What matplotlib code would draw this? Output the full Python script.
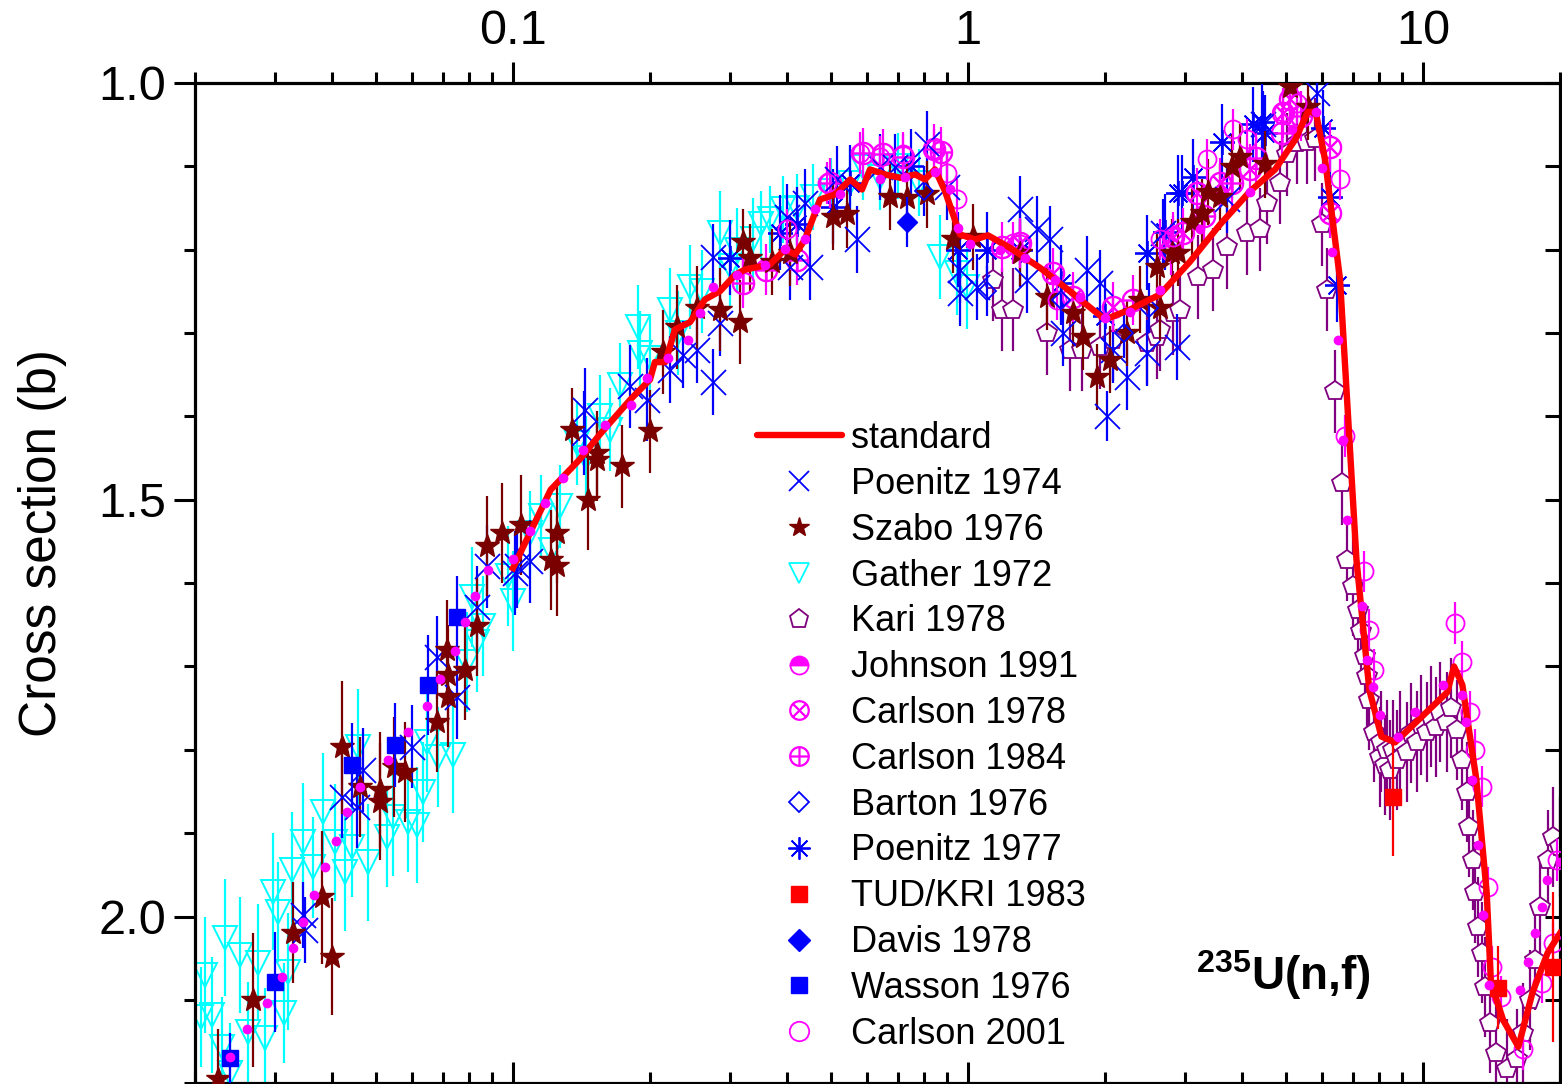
import matplotlib
matplotlib.use('Agg')
import matplotlib.pyplot as plt
from matplotlib.lines import Line2D
from matplotlib.ticker import FixedLocator, FixedFormatter, NullFormatter, LogLocator, MultipleLocator

plt.rcParams['font.family'] = ['Liberation Sans', 'DejaVu Sans']
plt.rcParams['mathtext.fontset'] = 'custom'
plt.rcParams['mathtext.rm'] = 'Liberation Sans'
plt.rcParams['mathtext.bf'] = 'Liberation Sans:bold'

# ---------------- data (energy in MeV, cross section in b) ----------------
std_E = [0.10, 0.121, 0.14, 0.155, 0.181, 0.2, 0.205, 0.216, 0.227, 0.245, 0.264, 0.285,
         0.308, 0.324, 0.367, 0.396, 0.417, 0.438, 0.473, 0.51, 0.551, 0.585, 0.609, 0.657,
         0.709, 0.765, 0.804, 0.846, 0.89, 0.96, 1.036, 1.106, 1.237, 1.44, 1.675, 2.0, 2.27,
         2.64, 3.07, 3.58, 4.17, 4.73, 5.24, 5.58, 5.81, 6.09, 6.57, 7.14, 7.62, 8.10, 8.68,
         11.3, 11.7, 12.2, 13.1, 13.8, 14.1, 15.0, 16.2, 17.4, 18.8, 20.0]
std_s = [1.582, 1.488, 1.452, 1.422, 1.38, 1.356, 1.335, 1.335, 1.296, 1.287, 1.26, 1.25,
         1.23, 1.224, 1.218, 1.20, 1.206, 1.188, 1.14, 1.134, 1.116, 1.128, 1.104, 1.11,
         1.114, 1.11, 1.116, 1.104, 1.13, 1.182, 1.188, 1.183, 1.198, 1.222, 1.25, 1.284, 1.272,
         1.254, 1.215, 1.17, 1.13, 1.104, 1.068, 1.035, 1.035, 1.092, 1.236, 1.572, 1.728, 1.784, 1.791,
         1.731, 1.70, 1.722, 1.836, 1.971, 2.079, 2.124, 2.156, 2.091, 2.043, 2.02]

poen74_E = [0.0345, 0.0349, 0.0421, 0.0454, 0.0468, 0.060, 0.0681, 0.0754, 0.0834, 0.0877, 0.101,
            0.102, 0.109, 0.143, 0.144, 0.181, 0.197, 0.221, 0.236, 0.254, 0.275, 0.285, 0.275,
            0.400, 0.406, 0.438, 0.450, 0.515, 0.570, 0.641, 0.691, 0.813, 0.900, 0.960, 0.960,
            1.047, 1.30, 1.35, 1.42, 1.514, 1.62, 1.83, 1.95, 2.02, 2.08, 2.24, 2.47, 2.68, 2.88,
            3.71, 4.45, 5.85]
poen74_s = [1.998, 2.016, 1.856, 1.868, 1.824, 1.796, 1.689, 1.737, 1.629, 1.580, 1.588,
            1.580, 1.574, 1.420, 1.392, 1.364, 1.380, 1.344, 1.326, 1.320, 1.359, 1.288, 1.209,
            1.161, 1.221, 1.144, 1.221, 1.116, 1.188, 1.101, 1.101, 1.074, 1.125, 1.224, 1.252,
            1.245, 1.152, 1.236, 1.176, 1.188, 1.300, 1.224, 1.240, 1.400, 1.320, 1.353, 1.324, 1.180, 1.317,
            1.140, 1.050, 1.012]
poen74_err = [0.04, 0.04, 0.05, 0.05, 0.05, 0.05, 0.05, 0.05, 0.05, 0.05, 0.05,
              0.05, 0.05, 0.05, 0.05, 0.05, 0.05, 0.04, 0.04, 0.04, 0.04, 0.04, 0.04,
              0.04, 0.04, 0.04, 0.04, 0.04, 0.04, 0.04, 0.04, 0.04, 0.04, 0.04, 0.04,
              0.04, 0.04, 0.04, 0.04, 0.04, 0.04, 0.04, 0.04, 0.03, 0.04, 0.04, 0.04, 0.04, 0.04,
              0.04, 0.04, 0.04]

szabo_E = [0.0225, 0.0268, 0.0328, 0.0380, 0.0400, 0.0421, 0.0461, 0.0510, 0.0510, 0.0547, 0.0579,
           0.0681, 0.0716, 0.0720, 0.0720, 0.0785, 0.0834, 0.0877, 0.0946, 0.104, 0.121, 0.125,
           0.125, 0.135, 0.146, 0.153, 0.153, 0.174, 0.200, 0.214, 0.229, 0.254, 0.285, 0.315,
           0.320, 0.332, 0.371, 0.406, 0.505, 0.542, 0.674, 0.734, 0.813, 0.927, 1.025, 1.30,
           1.49, 1.70, 1.79, 1.92, 2.05, 2.24, 2.39, 2.60, 2.64, 2.81, 2.89, 3.11, 3.27, 3.37,
           3.58, 3.80, 3.96, 4.50, 5.10, 5.59]
szabo_s = [2.195, 2.100, 2.019, 1.977, 2.048, 1.797, 1.845, 1.848, 1.862, 1.821, 1.826,
           1.766, 1.680, 1.736, 1.710, 1.704, 1.652, 1.556, 1.540, 1.530, 1.572, 1.580,
           1.540, 1.416, 1.500, 1.444, 1.452, 1.460, 1.418, 1.323, 1.293, 1.270, 1.272, 1.287,
           1.191, 1.210, 1.215, 1.204, 1.161, 1.158, 1.137, 1.138, 1.134, 1.188, 1.185, 1.204,
           1.257, 1.276, 1.305, 1.353, 1.332, 1.300, 1.260, 1.221, 1.270, 1.204, 1.204, 1.167, 1.156, 1.131,
           1.137, 1.101, 1.089, 1.098, 1.005, 1.029]
szabo_err = [0.06, 0.08, 0.06, 0.08, 0.07, 0.08, 0.06, 0.07, 0.07, 0.06, 0.06,
             0.06, 0.06, 0.06, 0.06, 0.06, 0.06, 0.06, 0.06, 0.06, 0.06, 0.06,
             0.06, 0.05, 0.06, 0.05, 0.05, 0.05, 0.05, 0.05, 0.05, 0.05, 0.05, 0.05,
             0.04, 0.04, 0.04, 0.04, 0.04, 0.04, 0.04, 0.04, 0.04, 0.04, 0.04, 0.04,
             0.04, 0.04, 0.04, 0.04, 0.04, 0.04, 0.04, 0.04, 0.04, 0.04, 0.04, 0.04, 0.04, 0.04,
             0.04, 0.04, 0.04, 0.04, 0.04, 0.04]

gather_E = [0.0206, 0.0210, 0.0218, 0.0229, 0.0233, 0.0239, 0.0251, 0.0262, 0.0275, 0.0285,
            0.0297, 0.0305, 0.0313, 0.0320, 0.0327, 0.0345, 0.0363, 0.0382, 0.0406, 0.0427,
            0.0443, 0.0456, 0.0480, 0.0528, 0.0545, 0.0588, 0.0615, 0.0634, 0.0647, 0.0684,
            0.0738, 0.0793, 0.0813, 0.0834, 0.0859, 0.0975, 0.100, 0.109, 0.115, 0.121, 0.127,
            0.138, 0.145, 0.155, 0.163, 0.172, 0.188, 0.190, 0.200, 0.221, 0.230, 0.245, 0.260,
            0.285, 0.300, 0.311, 0.337, 0.350, 0.367, 0.392, 0.420, 0.456, 0.500, 0.550, 0.588,
            0.641, 0.700, 0.780, 0.868, 0.946, 0.995]
gather_s = [2.120, 2.070, 2.118, 2.156, 2.025, 2.187, 2.046, 2.138, 2.055, 2.145,
            1.970, 1.994, 2.115, 2.066, 1.944, 1.910, 1.941, 1.874, 1.911, 1.947,
            1.916, 1.797, 1.935, 1.904, 1.881, 1.887, 1.890, 1.851, 1.790, 1.808,
            1.806, 1.695, 1.617, 1.671, 1.652, 1.592, 1.622, 1.540, 1.520, 1.560, 1.508,
            1.432, 1.450, 1.400, 1.416, 1.362, 1.293, 1.324, 1.330, 1.272, 1.300, 1.245, 1.250,
            1.180, 1.220, 1.200, 1.188, 1.170, 1.164, 1.152, 1.150, 1.137, 1.130, 1.120, 1.101,
            1.113, 1.100, 1.120, 1.209, 1.228, 1.245]
gather_err = [0.06, 0.07, 0.07, 0.06, 0.07, 0.06, 0.07, 0.06, 0.07, 0.06,
              0.07, 0.06, 0.06, 0.07, 0.07, 0.07, 0.06, 0.07, 0.07, 0.07,
              0.06, 0.07, 0.07, 0.06, 0.07, 0.06, 0.07, 0.06, 0.06, 0.06,
              0.07, 0.06, 0.06, 0.06, 0.06, 0.06, 0.06, 0.05, 0.05, 0.05, 0.05,
              0.05, 0.05, 0.05, 0.05, 0.05, 0.05, 0.05, 0.05, 0.05, 0.05, 0.05, 0.05,
              0.05, 0.05, 0.05, 0.05, 0.04, 0.04, 0.04, 0.04, 0.04, 0.04, 0.04, 0.04,
              0.04, 0.04, 0.04, 0.05, 0.05, 0.05]

kari_E = [1.135, 1.19, 1.256, 1.49, 1.675, 1.78, 1.95, 2.08, 2.47, 2.60, 2.64, 2.82, 2.92,
          3.20, 3.45, 3.71, 4.10, 4.38, 4.54, 4.85, 5.02, 5.28, 5.56, 5.79, 6.0, 6.15, 6.41,
          6.64, 6.81, 7.02, 7.20, 7.30, 7.46, 7.55, 7.62, 7.8, 8.05, 8.1, 8.25, 8.35, 8.44,
          8.6, 8.76, 8.9, 9.2, 9.4, 9.7, 9.9, 10.2, 10.4, 10.7, 10.9, 11.3, 11.5, 11.9, 12.2,
          12.5, 12.6, 12.9, 13.0, 13.2, 13.5, 13.7, 14.0, 14.5, 15.3, 16.1, 16.6, 17.2, 17.6,
          18.1, 18.8, 19.3, 20.0]
kari_s = [1.236, 1.272, 1.272, 1.300, 1.320, 1.320, 1.317, 1.308, 1.312, 1.305, 1.296, 1.276, 1.272,
          1.233, 1.224, 1.197, 1.180, 1.176, 1.144, 1.120, 1.086, 1.072, 1.071, 1.068, 1.170, 1.248, 1.370,
          1.480, 1.572, 1.604, 1.632, 1.658, 1.688, 1.712, 1.740, 1.779, 1.808, 1.790, 1.818, 1.800, 1.824,
          1.800, 1.812, 1.790, 1.803, 1.780, 1.790, 1.770, 1.779, 1.760, 1.773, 1.755, 1.767, 1.750, 1.776, 1.812,
          1.851, 1.892, 1.932, 1.971, 2.012, 2.043, 2.084, 2.127, 2.163, 2.183, 2.171, 2.139, 2.100, 2.052,
          1.988, 1.932, 1.904, 1.916]
kari_err = [0.05, 0.05, 0.05, 0.05, 0.05, 0.05, 0.05, 0.05, 0.05, 0.05, 0.05, 0.05, 0.05,
            0.05, 0.05, 0.05, 0.05, 0.05, 0.05, 0.05, 0.05, 0.05, 0.05, 0.05, 0.05, 0.05, 0.05,
            0.05, 0.05, 0.06, 0.06, 0.06, 0.06, 0.06, 0.06, 0.06, 0.06, 0.06, 0.06, 0.06, 0.06,
            0.06, 0.06, 0.06, 0.06, 0.06, 0.06, 0.06, 0.06, 0.06, 0.06, 0.06, 0.06, 0.06, 0.06, 0.06,
            0.06, 0.06, 0.06, 0.06, 0.06, 0.06, 0.06, 0.06, 0.06, 0.06, 0.06, 0.06, 0.06, 0.06,
            0.06, 0.06, 0.06, 0.06]

johnson_E = [0.0239, 0.0260, 0.0288, 0.0311, 0.0328, 0.0345, 0.0365, 0.0386, 0.0408, 0.0432,
             0.0461, 0.0531, 0.0588, 0.0647, 0.0691, 0.0746, 0.0785, 0.0825, 0.0881, 0.100,
             0.109, 0.1175, 0.1288, 0.1425, 0.159, 0.1817, 0.197, 0.219, 0.2425, 0.2576, 0.275,
             0.3106, 0.358, 0.396, 0.438, 0.461, 0.523, 0.641, 0.727, 0.846, 0.913, 0.951, 1.01,
             1.176, 1.334, 1.553, 1.763, 2.0, 2.27, 2.64, 3.24, 4.17, 5.15, 5.82, 6.0, 6.31,
             6.50, 6.67, 6.81, 7.34, 7.53, 7.76, 8.04, 8.81, 9.60, 11.06, 12.18, 12.44, 12.82,
             13.21, 13.55, 13.97, 16.34, 17.0, 17.63, 18.26, 18.74, 20.0]
johnson_s = [2.168, 2.135, 2.103, 2.072, 2.038, 2.006, 1.974, 1.940, 1.909, 1.875,
             1.844, 1.812, 1.779, 1.747, 1.715, 1.681, 1.647, 1.616, 1.584, 1.571,
             1.538, 1.504, 1.474, 1.440, 1.410, 1.386, 1.354, 1.330, 1.308, 1.276, 1.245,
             1.231, 1.219, 1.199, 1.188, 1.152, 1.134, 1.116, 1.113, 1.107, 1.128, 1.174, 1.194,
             1.200, 1.210, 1.236, 1.257, 1.282, 1.275, 1.248, 1.176, 1.131, 1.056, 1.035, 1.102, 1.203,
             1.308, 1.428, 1.524, 1.628, 1.692, 1.725, 1.758, 1.784, 1.754, 1.722, 1.734, 1.766, 1.836,
             1.914, 1.998, 2.082, 2.088, 2.054, 2.019, 1.988, 1.956, 1.934]

carl78_E = [1.19, 1.30, 1.54, 1.70, 2.08, 2.82, 2.97, 3.19, 3.58, 4.17, 4.93, 5.1, 6.25, 6.25]
carl78_s = [1.197, 1.192, 1.228, 1.257, 1.269, 1.185, 1.180, 1.132, 1.12, 1.104, 1.036, 1.020, 1.077, 1.156]

carl84_E = [0.32, 0.36, 0.42, 0.497, 0.588, 0.65, 0.72, 0.84, 0.87, 2.3, 2.8, 3.3, 3.8, 4.3, 4.9, 5.4]
carl84_s = [1.24, 1.224, 1.212, 1.12, 1.084, 1.086, 1.089, 1.08, 1.083, 1.26, 1.20, 1.16, 1.12, 1.09, 1.06, 1.04]

barton_E = [0.8, 1.1, 1.6, 2.2, 2.5]
barton_s = [1.13, 1.25, 1.26, 1.30, 1.27]

poen77_E = [0.30, 0.386, 0.42, 0.505, 0.55, 0.75, 0.95, 1.10, 1.30, 1.60, 2.00, 2.47, 2.71,
            2.89, 2.95, 3.12, 3.62, 4.23, 4.43, 4.50, 6.03, 6.25, 6.47]
poen77_s = [1.21, 1.180, 1.17, 1.149, 1.12, 1.10, 1.20, 1.20, 1.20, 1.24, 1.28, 1.204, 1.179,
            1.132, 1.132, 1.113, 1.071, 1.050, 1.047, 1.060, 1.054, 1.137, 1.242]

tud_E = [8.6, 14.6, 19.3]
tud_s = [1.857, 2.085, 2.06]
tud_err = [0.07, 0.05, 0.09]

davis_E = [0.734]
davis_s = [1.167]

wasson_E = [0.0239, 0.030, 0.0443, 0.0551, 0.065, 0.0754]
wasson_s = [2.169, 2.078, 1.818, 1.794, 1.722, 1.641]
wasson_err = [0.03, 0.06, 0.05, 0.05, 0.06, 0.05]

carl01_E = [0.40, 0.49, 0.58, 0.641, 0.72, 0.84, 0.90, 0.946, 1.256, 1.30, 1.57, 2.64, 2.82,
            3.35, 3.83, 4.10, 4.93, 5.28, 6.57, 6.74, 7.4, 7.6, 7.8, 11.75, 12.2, 12.7, 13.0,
            13.5, 13.9, 14.2, 14.8, 16.6, 18.3, 19.3, 19.7]
carl01_s = [1.176, 1.12, 1.084, 1.089, 1.086, 1.080, 1.108, 1.140, 1.192, 1.194, 1.260, 1.188, 1.185,
            1.092, 1.056, 1.068, 1.035, 1.024, 1.116, 1.424, 1.586, 1.656, 1.704, 1.648, 1.695, 1.755, 1.80,
            1.844, 1.965, 2.060, 2.096, 2.159, 2.079, 2.031, 1.932]

legend_labels = ['standard', 'Poenitz 1974', 'Szabo 1976', 'Gather 1972', 'Kari 1978',
                 'Johnson 1991', 'Carlson 1978', 'Carlson 1984', 'Barton 1976', 'Poenitz 1977',
                 'TUD/KRI 1983', 'Davis 1978', 'Wasson 1976', 'Carlson 2001']

x_ticks = [0.1, 1, 10]
x_ticklabels = ['0.1', '1', '10']
y_ticks = [1.0, 1.5, 2.0]
y_ticklabels = ['1.0', '1.5', '2.0']

# ---------------- colours ----------------
BLUE = '#0000FF'
MAROON = '#7A0000'
CYAN = '#00FFFF'
PURPLE = '#800080'
MAGENTA = '#FF00FF'
RED = '#FF0000'

fig = plt.figure(figsize=(15.62, 10.84), dpi=100)
ax = fig.add_axes([195 / 1562, 0.0005, 1365 / 1562, 0.9232])
ax.set_xscale('log')
ax.set_xlim(0.02, 20.0)
ax.set_ylim(2.2, 1.0)

ekw = dict(linestyle='none', elinewidth=1.6, capsize=0)

ax.errorbar(gather_E, gather_s, yerr=gather_err, fmt='v', color=CYAN, ms=17, mfc='none',
            mec=CYAN, mew=1.4, ecolor=CYAN, **ekw, zorder=2)
ax.errorbar(kari_E, kari_s, yerr=kari_err, fmt='p', color=PURPLE, ms=15, mfc='white',
            mec=PURPLE, mew=1.3, ecolor=PURPLE, **ekw, zorder=2)
ax.errorbar(poen74_E, poen74_s, yerr=poen74_err, fmt='x', color=BLUE, ms=18, mew=1.3,
            ecolor=BLUE, **ekw, zorder=3)
ax.errorbar(poen77_E, poen77_s, yerr=0.045, fmt='none', ecolor=BLUE, **ekw, zorder=3)
ax.plot(poen77_E, poen77_s, linestyle='none', marker=(8, 2, 0), ms=18, mec=BLUE, mew=1.3, zorder=3)
ax.errorbar(szabo_E, szabo_s, yerr=szabo_err, fmt='*', color=MAROON, ms=18, mec=MAROON,
            ecolor=MAROON, **ekw, zorder=3)
ax.errorbar(carl78_E, carl78_s, yerr=0.03, fmt='none', ecolor=MAGENTA, **ekw, zorder=3)
ax.plot(carl78_E, carl78_s, linestyle='none', marker=r'$\otimes$', ms=16, color=MAGENTA, zorder=3)
ax.errorbar(carl84_E, carl84_s, yerr=0.03, fmt='none', ecolor=MAGENTA, **ekw, zorder=3)
ax.plot(carl84_E, carl84_s, linestyle='none', marker=r'$\oplus$', ms=16, color=MAGENTA, zorder=3)
ax.errorbar(carl01_E, carl01_s, yerr=0.025, fmt='o', ms=13, mfc='none', mec=MAGENTA, mew=1.3,
            ecolor=MAGENTA, **ekw, zorder=3)
ax.errorbar(barton_E, barton_s, yerr=0.03, fmt='D', ms=9, mfc='none', mec=BLUE, mew=1.3,
            ecolor=BLUE, **ekw, zorder=3)
ax.errorbar(davis_E, davis_s, yerr=0.03, fmt='D', ms=10, color=BLUE, ecolor=BLUE, **ekw, zorder=4)
ax.errorbar(wasson_E, wasson_s, yerr=wasson_err, fmt='s', ms=11, color=BLUE, ecolor=BLUE, **ekw, zorder=4)
ax.errorbar(tud_E, tud_s, yerr=tud_err, fmt='s', ms=11, color=RED, ecolor=RED, **ekw, zorder=4)

ax.plot(std_E, std_s, color=RED, lw=4.6, solid_joinstyle='round', zorder=5)
ax.plot(johnson_E, johnson_s, linestyle='none', marker='o', ms=6, color=MAGENTA, mec=MAGENTA, zorder=6)

# ---------------- legend ----------------
handles = [
    Line2D([], [], color=RED, lw=4.6, solid_capstyle='round'),
    Line2D([], [], ls='none', marker='x', ms=14, mec=BLUE, mew=1.3),
    Line2D([], [], ls='none', marker='*', ms=15, color=MAROON),
    Line2D([], [], ls='none', marker='v', ms=14, mfc='none', mec=CYAN, mew=1.3),
    Line2D([], [], ls='none', marker='p', ms=14, mfc='none', mec=PURPLE, mew=1.3),
    Line2D([], [], ls='none', marker='o', ms=13, fillstyle='top', mfc=MAGENTA, mec=MAGENTA,
           markerfacecoloralt='white', mew=1.3),
    Line2D([], [], ls='none', marker=r'$\otimes$', ms=14, color=MAGENTA),
    Line2D([], [], ls='none', marker=r'$\oplus$', ms=14, color=MAGENTA),
    Line2D([], [], ls='none', marker='D', ms=10, mfc='none', mec=BLUE, mew=1.3),
    Line2D([], [], ls='none', marker=(8, 2, 0), ms=16, mec=BLUE, mew=1.3),
    Line2D([], [], ls='none', marker='s', ms=11, color=RED),
    Line2D([], [], ls='none', marker='D', ms=11, color=BLUE),
    Line2D([], [], ls='none', marker='s', ms=11, color=BLUE),
    Line2D([], [], ls='none', marker='o', ms=14, mfc='none', mec=MAGENTA, mew=1.3),
]
leg = ax.legend(handles, legend_labels, loc='upper left',
                bbox_to_anchor=(757 / 1562, 1 - 421 / 1084), bbox_transform=fig.transFigure,
                frameon=False, fontsize=26, borderpad=0, borderaxespad=0,
                handlelength=2.35, handletextpad=0.25, labelspacing=0.30)

ax.text(0.733, 0.108, r'$^{\mathbf{235}}$U(n,f)', transform=ax.transAxes, fontsize=33,
        fontweight='bold', ha='left', va='center')

# ---------------- axes styling ----------------
for sp in ax.spines.values():
    sp.set_linewidth(2.3)

ax.xaxis.set_major_locator(FixedLocator(x_ticks))
ax.xaxis.set_major_formatter(FixedFormatter(x_ticklabels))
ax.xaxis.set_minor_locator(LogLocator(base=10, subs=[2, 3, 4, 5, 6, 7, 8, 9]))
ax.xaxis.set_minor_formatter(NullFormatter())
ax.tick_params(axis='x', which='both', top=True, bottom=False, labeltop=True, labelbottom=False,
               direction='out', width=2.2, labelsize=35, pad=6)
ax.tick_params(axis='x', which='major', length=15)
ax.tick_params(axis='x', which='minor', length=8)

ax.yaxis.set_major_locator(FixedLocator(y_ticks))
ax.yaxis.set_major_formatter(FixedFormatter(y_ticklabels))
ax.yaxis.set_minor_locator(MultipleLocator(0.1))
ax.tick_params(axis='y', which='both', left=True, right=False, direction='out', width=2.2,
               labelsize=35, pad=6)
ax.tick_params(axis='y', which='major', length=15)
ax.tick_params(axis='y', which='minor', length=8)

secx = ax.secondary_xaxis('bottom')
secx.xaxis.set_major_locator(FixedLocator(x_ticks))
secx.xaxis.set_minor_locator(LogLocator(base=10, subs=[2, 3, 4, 5, 6, 7, 8, 9]))
secx.xaxis.set_minor_formatter(NullFormatter())
secx.tick_params(axis='x', which='both', direction='in', width=2.2, labelbottom=False)
secx.tick_params(axis='x', which='major', length=15)
secx.tick_params(axis='x', which='minor', length=8)
secx.spines['bottom'].set_visible(False)

secy = ax.secondary_yaxis('right')
secy.yaxis.set_major_locator(FixedLocator(y_ticks))
secy.yaxis.set_minor_locator(MultipleLocator(0.1))
secy.tick_params(axis='y', which='both', direction='in', width=2.2, length=11, labelright=False)
secy.spines['right'].set_visible(False)

ax.set_ylabel('Cross section (b)', fontsize=37)
ax.yaxis.set_label_coords(-0.094, 0.54)

fig.savefig('out.png', dpi=100)
